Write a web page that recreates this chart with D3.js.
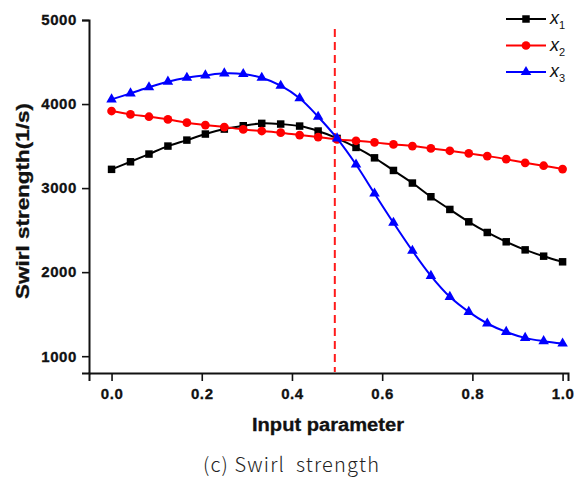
<!DOCTYPE html>
<html>
<head>
<meta charset="utf-8">
<script src="https://cdn.jsdelivr.net/npm/d3@7"></script>
<style>
  body { margin: 0; background: #fff; }
  svg { display: block; }
</style>
</head>
<body>
<div id="chart"></div>
<script>
// input parameter (25 evenly spaced samples)
const inputParam = [0, 0.042, 0.083, 0.125, 0.167, 0.208, 0.25, 0.292, 0.333, 0.375, 0.417, 0.458,
  0.5, 0.542, 0.583, 0.625, 0.667, 0.708, 0.75, 0.792, 0.833, 0.875, 0.917, 0.958, 1.0];

// swirl strength (1/s) for each input
const x1Values = [3223, 3313, 3405, 3500, 3571, 3643, 3702, 3742, 3770, 3762, 3738, 3679,
  3591, 3484, 3360, 3210, 3060, 2897, 2746, 2599, 2472, 2361, 2265, 2190, 2123];
const x2Values = [3917, 3877, 3849, 3817, 3778, 3750, 3726, 3698, 3679, 3659, 3631, 3607,
  3579, 3563, 3544, 3520, 3500, 3472, 3444, 3413, 3381, 3345, 3301, 3266, 3226];
const x3Values = [4056, 4127, 4199, 4266, 4313, 4341, 4365, 4357, 4313, 4218, 4068, 3849,
  3591, 3280, 2935, 2587, 2254, 1956, 1706, 1527, 1389, 1289, 1218, 1179, 1151];

const seriesNames = ["1", "2", "3"];   // subscripts of x
const xTicks = [0, 0.2, 0.4, 0.6, 0.8, 1.0];
const yTicks = [1000, 2000, 3000, 4000, 5000];
const dividerAt = 0.495;

const width = 575, height = 478;
const sansFont = "Arial, 'Liberation Sans', Helvetica, sans-serif";

const svg = d3.select("#chart")
  .append("svg")
    .attr("width", width)
    .attr("height", height)
    .attr("font-family", sansFont);

const x = d3.scaleLinear()
  .domain([-0.05, 1.012])
  .range([89, 568]);
const y = d3.scaleLinear()
  .domain([800, 5000])
  .range([373, 20]);

const series = [
  {name: seriesNames[0], values: x1Values, color: "#000000", symbol: d3.symbolSquare, size: 56},
  {name: seriesNames[1], values: x2Values, color: "#ff0000", symbol: d3.symbolCircle, size: 60},
  {name: seriesNames[2], values: x3Values, color: "#0000ff", symbol: d3.symbolTriangle, size: 48},
];

// axes
const xAxis = svg.append("g")
  .attr("transform", `translate(0, ${y.range()[0]})`)
  .call(d3.axisBottom(x)
    .tickValues(xTicks)
    .tickSizeOuter(0)
    .tickSize(8)
    .tickPadding(7)
    .tickFormat(d3.format(".1f")));
const yAxis = svg.append("g")
  .attr("transform", `translate(${x.range()[0]}, 0)`)
  .call(d3.axisLeft(y)
    .tickValues(yTicks)
    .tickSizeOuter(0)
    .tickSize(7)
    .tickPadding(5)
    .tickFormat(d3.format("d")));

[xAxis, yAxis].forEach(g => {
  g.attr("font-family", sansFont).attr("font-size", 15).attr("font-weight", "bold");
  g.select(".domain").attr("stroke", "#111").attr("stroke-width", 2);
  g.selectAll(".tick line").attr("stroke", "#111").attr("stroke-width", 1.6);
  g.selectAll(".tick text")
    .attr("fill", "#111")
    .attr("stroke", "#111")
    .attr("stroke-width", 0.3)
    .style("letter-spacing", "0.6px");
});

// dashed divider
svg.append("line")
  .attr("x1", x(dividerAt)).attr("x2", x(dividerAt))
  .attr("y1", 29).attr("y2", y.range()[0] - 1)
  .attr("stroke", "#ff1a1a")
  .attr("stroke-width", 2)
  .attr("stroke-dasharray", "8,5");

// lines + markers
const line = d3.line()
  .x((d, i) => x(inputParam[i]))
  .y(d => y(d))
  .curve(d3.curveCatmullRom.alpha(0.5));

series.forEach(s => {
  svg.append("path")
    .datum(s.values)
    .attr("fill", "none")
    .attr("stroke", s.color)
    .attr("stroke-width", 2)
    .attr("d", line);

  svg.selectAll(null)
    .data(s.values)
    .enter()
    .append("path")
      .attr("transform", (d, i) => `translate(${x(inputParam[i])}, ${y(d)})`)
      .attr("d", d3.symbol().type(s.symbol).size(s.size))
      .attr("fill", s.color);
});

// legend
const legend = svg.append("g").attr("transform", "translate(506, 19)");
series.forEach((s, i) => {
  const row = legend.append("g").attr("transform", `translate(0, ${i * 26.5})`);
  row.append("line")
    .attr("x1", 0).attr("x2", 40)
    .attr("stroke", s.color)
    .attr("stroke-width", 2);
  row.append("path")
    .attr("transform", "translate(20, 0)")
    .attr("d", d3.symbol().type(s.symbol).size(s.size))
    .attr("fill", s.color);
  const t = row.append("text")
    .attr("x", 44)
    .attr("y", 5)
    .attr("fill", "#111")
    .attr("font-size", 18)
    .attr("font-style", "italic");
  t.append("tspan").text("x");
  t.append("tspan")
    .attr("dy", 5)
    .attr("font-size", 11)
    .attr("font-style", "normal")
    .text(s.name);
});

// titles
svg.append("text")
  .attr("x", 328)
  .attr("y", 431)
  .attr("text-anchor", "middle")
  .attr("fill", "#111")
  .attr("stroke", "#111")
  .attr("stroke-width", 0.3)
  .attr("font-size", 18)
  .attr("font-weight", "bold")
  .attr("textLength", 152)
  .attr("lengthAdjust", "spacingAndGlyphs")
  .text("Input parameter");

svg.append("text")
  .attr("transform", "translate(29, 201) rotate(-90)")
  .attr("text-anchor", "middle")
  .attr("fill", "#111")
  .attr("stroke", "#111")
  .attr("stroke-width", 0.3)
  .attr("font-size", 18)
  .attr("font-weight", "bold")
  .attr("textLength", 196)
  .attr("lengthAdjust", "spacingAndGlyphs")
  .text("Swirl strength(1/s)");

svg.append("text")
  .attr("x", 291)
  .attr("y", 472)
  .attr("text-anchor", "middle")
  .attr("fill", "#222")
  .attr("xml:space", "preserve")
  .style("white-space", "pre")
  .attr("font-family", "'Noto Sans CJK KR', 'Noto Sans', sans-serif")
  .attr("font-size", 20)
  .attr("font-weight", 300)
  .attr("textLength", 176)
  .attr("lengthAdjust", "spacing")
  .text("(c) Swirl  strength");
</script>
</body>
</html>
